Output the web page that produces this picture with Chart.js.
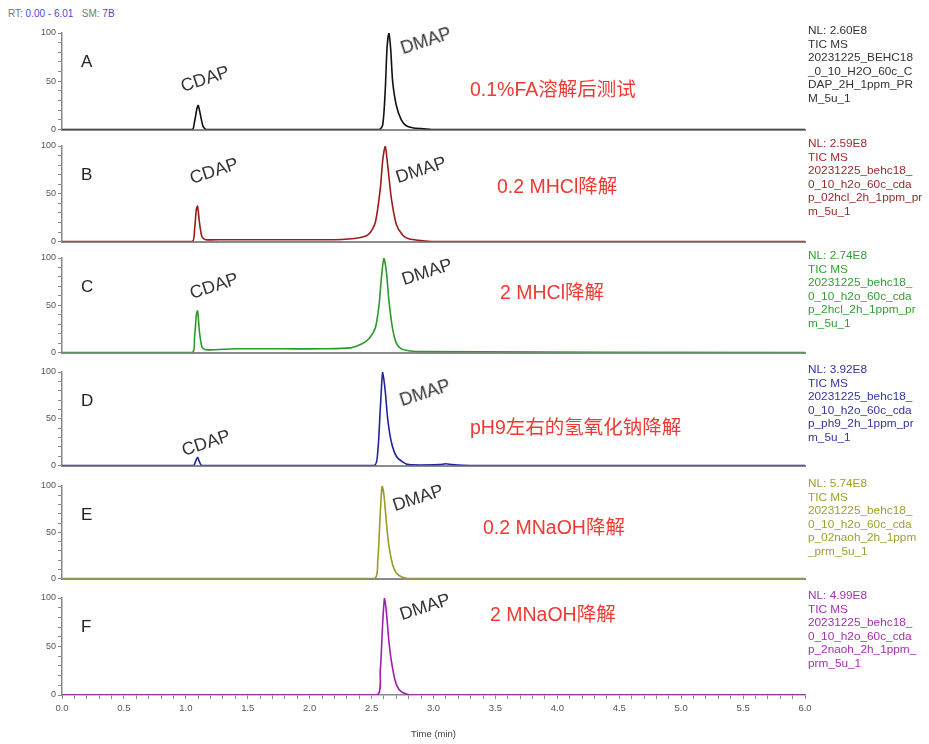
<!DOCTYPE html>
<html>
<head>
<meta charset="utf-8">
<script src="https://cdn.jsdelivr.net/npm/chart.js@4.4.1/dist/chart.umd.min.js"></script>
<style>
body{margin:0;background:#fff;width:929px;height:744px;position:relative;overflow:hidden;font-family:"Liberation Sans",Arial,sans-serif;}
.pnl{position:absolute;left:0;width:929px;}
.txt{position:absolute;white-space:nowrap;}
.letter{font-size:17px;color:#222;}
.peak{font-size:18px;color:#333;transform:translate(-50%,-50%) rotate(-18deg);}
.cond{font-size:19.5px;color:#ee3a34;transform:translateY(-50%);font-family:"Liberation Sans","Noto Sans CJK SC",sans-serif;}
.info{font-size:11.8px;line-height:13.5px;left:808px;}
.hdr{font-size:10px;color:#777;top:8px;}
.hdr b{font-weight:normal;color:#4a4ad0;}
</style>
</head>
<body>
<div class="txt hdr" style="left:8px">RT: <b>0.00 - 6.01</b> &nbsp; SM: <b>7B</b></div>
<script>
/* 色谱图数据：时间(min) / 相对丰度(%) */

var panelNames = ['A', 'B', 'C', 'D', 'E', 'F'];

// A 0.1%FA
var timeA = [0, 1.05, 1.07, 1.09, 1.10, 1.12, 1.14, 1.17, 2.56, 2.59, 2.61, 2.625, 2.64, 2.655, 2.67, 2.70, 2.74, 2.78, 2.83, 2.90, 3.0, 6.0];
var valsA = [0, 0, 8, 22, 25, 14, 3, 0, 0, 5, 40, 85, 100, 82, 50, 25, 10, 4, 2, 1, 0, 0];

// B 0.2 M HCl
var timeB = [0, 1.05, 1.07, 1.085, 1.095, 1.11, 1.13, 1.16, 1.3, 1.8, 2.2, 2.40, 2.48, 2.53, 2.57, 2.59, 2.61, 2.63, 2.66, 2.70, 2.75, 2.80, 2.90, 3.0, 6.0];
var valsB = [0, 0, 12, 34, 37, 20, 5, 2, 2, 2, 2, 4, 8, 20, 55, 85, 100, 80, 45, 18, 7, 3, 1, 0, 0];

// C 2 M HCl
var timeC = [0, 1.05, 1.07, 1.085, 1.095, 1.11, 1.13, 1.16, 1.4, 1.8, 2.1, 2.33, 2.42, 2.48, 2.53, 2.56, 2.58, 2.60, 2.62, 2.64, 2.67, 2.70, 2.74, 2.80, 2.9, 6.0];
var valsC = [0, 0, 15, 40, 44, 22, 6, 3, 4, 4, 4, 5, 9, 15, 26, 50, 80, 100, 85, 55, 25, 10, 4, 2, 1, 0];

// D pH9
var timeD = [0, 1.06, 1.08, 1.095, 1.11, 1.13, 2.52, 2.55, 2.57, 2.59, 2.61, 2.63, 2.66, 2.70, 2.75, 2.80, 3.05, 3.10, 3.15, 3.3, 6.0];
var valsD = [0, 0, 5, 9, 4, 0, 0, 15, 60, 100, 80, 50, 25, 10, 4, 1, 1, 2, 1, 0, 0];

// E 0.2 M NaOH
var timeE = [0, 2.52, 2.55, 2.57, 2.585, 2.60, 2.62, 2.64, 2.67, 2.70, 2.74, 2.80, 6.0];
var valsE = [0, 0, 20, 70, 100, 90, 60, 35, 15, 6, 2, 0, 0];

// F 2 M NaOH
var timeF = [0, 2.54, 2.57, 2.59, 2.605, 2.62, 2.64, 2.66, 2.69, 2.72, 2.76, 2.82, 6.0];
var valsF = [0, 0, 25, 75, 100, 85, 55, 35, 15, 6, 2, 0, 0];

var nlValues = ['2.60E8', '2.59E8', '2.74E8', '3.92E8', '5.74E8', '4.99E8'];
var fileLines = [
	['20231225_BEHC18', '_0_10_H2O_60c_C', 'DAP_2H_1ppm_PR', 'M_5u_1'],
	['20231225_behc18_', '0_10_h2o_60c_cda', 'p_02hcl_2h_1ppm_pr', 'm_5u_1'],
	['20231225_behc18_', '0_10_h2o_60c_cda', 'p_2hcl_2h_1ppm_pr', 'm_5u_1'],
	['20231225_behc18_', '0_10_h2o_60c_cda', 'p_ph9_2h_1ppm_pr', 'm_5u_1'],
	['20231225_behc18_', '0_10_h2o_60c_cda', 'p_02naoh_2h_1ppm', '_prm_5u_1'],
	['20231225_behc18_', '0_10_h2o_60c_cda', 'p_2naoh_2h_1ppm_', 'prm_5u_1']
];
var conditionLabels = ['0.1%FA溶解后测试', '0.2 MHCl降解', '2 MHCl降解', 'pH9左右的氢氧化钠降解', '0.2 MNaOH降解', '2 MNaOH降解'];

var times = [timeA, timeB, timeC, timeD, timeE, timeF];
var vals = [valsA, valsB, valsC, valsD, valsE, valsF];

// 版式
var traceColors = ['#111', '#9a1c1c', '#2a9a2a', '#23239a', '#9c9c22', '#a020a8'];
var infoColors = ['#333', '#9a2a2a', '#33a033', '#3434a0', '#a0a030', '#a530b0'];
var panelTop = [33, 146, 258, 372, 486, 598];
var panelBottom = [133, 245, 356, 469, 582, 695];
var cdapPos = [[205, 79], [214, 171], [214, 286], [206, 443], null, null];
var dmapPos = [[426, 41], [421, 170], [427, 272], [425, 393], [418, 498], [425, 607]];
var condPos = [[470, 87], [497, 184], [500, 290], [470, 425], [483, 525], [490, 612]];

function addText(cls, html, x, y, color) {
	var d = document.createElement('div');
	d.className = 'txt ' + cls;
	d.innerHTML = html;
	d.style.left = x + 'px';
	d.style.top = y + 'px';
	if (color) d.style.color = color;
	document.body.appendChild(d);
}

function makePanel(i) {
	var top = panelTop[i], h = panelBottom[i] - top;
	var isLast = (i === panelNames.length - 1);
	var cvsTop = top - 10;
	var cvsH = isLast ? (744 - cvsTop) : h + 14;
	var div = document.createElement('div');
	div.className = 'pnl';
	div.style.top = cvsTop + 'px';
	div.style.height = cvsH + 'px';
	var cv = document.createElement('canvas');
	cv.width = 929;
	cv.height = cvsH;
	div.appendChild(cv);
	document.body.appendChild(div);

	var pts = times[i].map(function(t, k) { return {x: t, y: vals[i][k]}; });

	new Chart(cv, {
		type: 'line',
		data: {
			datasets: [{
				data: pts,
				borderColor: traceColors[i],
				borderWidth: 1.6,
				pointRadius: 0,
				tension: 0.25,
				fill: false
			}]
		},
		options: {
			responsive: false,
			animation: false,
			devicePixelRatio: 1,
			layout: {padding: {left: 22, right: 124, top: 10, bottom: isLast ? 0 : 4}},
			plugins: {legend: {display: false}, tooltip: {enabled: false}},
			scales: {
				x: {
					type: 'linear', min: 0, max: 6,
					afterFit: function(s) { s.height = isLast ? (cvsH - 10 - h) : 0; },
					border: {display: true, color: '#8a8a8a', width: isLast ? 1.5 : 2},
					grid: {display: isLast, drawOnChartArea: false, tickLength: 4, color: '#8a8a8a'},
					ticks: {
						display: isLast, stepSize: 0.1, autoSkip: false, maxRotation: 0,
						font: {size: 9.5}, color: '#555', padding: 4,
						callback: function(v) { return Math.round(v * 10) % 5 === 0 ? v.toFixed(1) : ''; }
					},
					title: {display: isLast, text: 'Time (min)', font: {size: 9.5}, color: '#444', padding: {top: 6}}
				},
				y: {
					min: 0, max: 100,
					afterFit: function(s) { s.width = 40; },
					border: {color: '#8a8a8a', width: 1.5},
					grid: {drawOnChartArea: false, tickLength: 4, color: '#8a8a8a'},
					ticks: {
						stepSize: 10, autoSkip: false, font: {size: 9}, color: '#555', padding: 2,
						callback: function(v) { return v % 50 === 0 ? v : ''; }
					}
				}
			}
		}
	});

	addText('letter', panelNames[i], 81, top + 19);
	if (cdapPos[i]) addText('peak', 'CDAP', cdapPos[i][0], cdapPos[i][1]);
	addText('peak', 'DMAP', dmapPos[i][0], dmapPos[i][1]);
	addText('cond', conditionLabels[i], condPos[i][0], condPos[i][1]);
	var info = ['NL: ' + nlValues[i], 'TIC MS'].concat(fileLines[i]).join('<br>');
	addText('info', info, 808, top - 9, infoColors[i]);
}

for (var i = 0; i < panelNames.length; i++) makePanel(i);
</script>
</body>
</html>
